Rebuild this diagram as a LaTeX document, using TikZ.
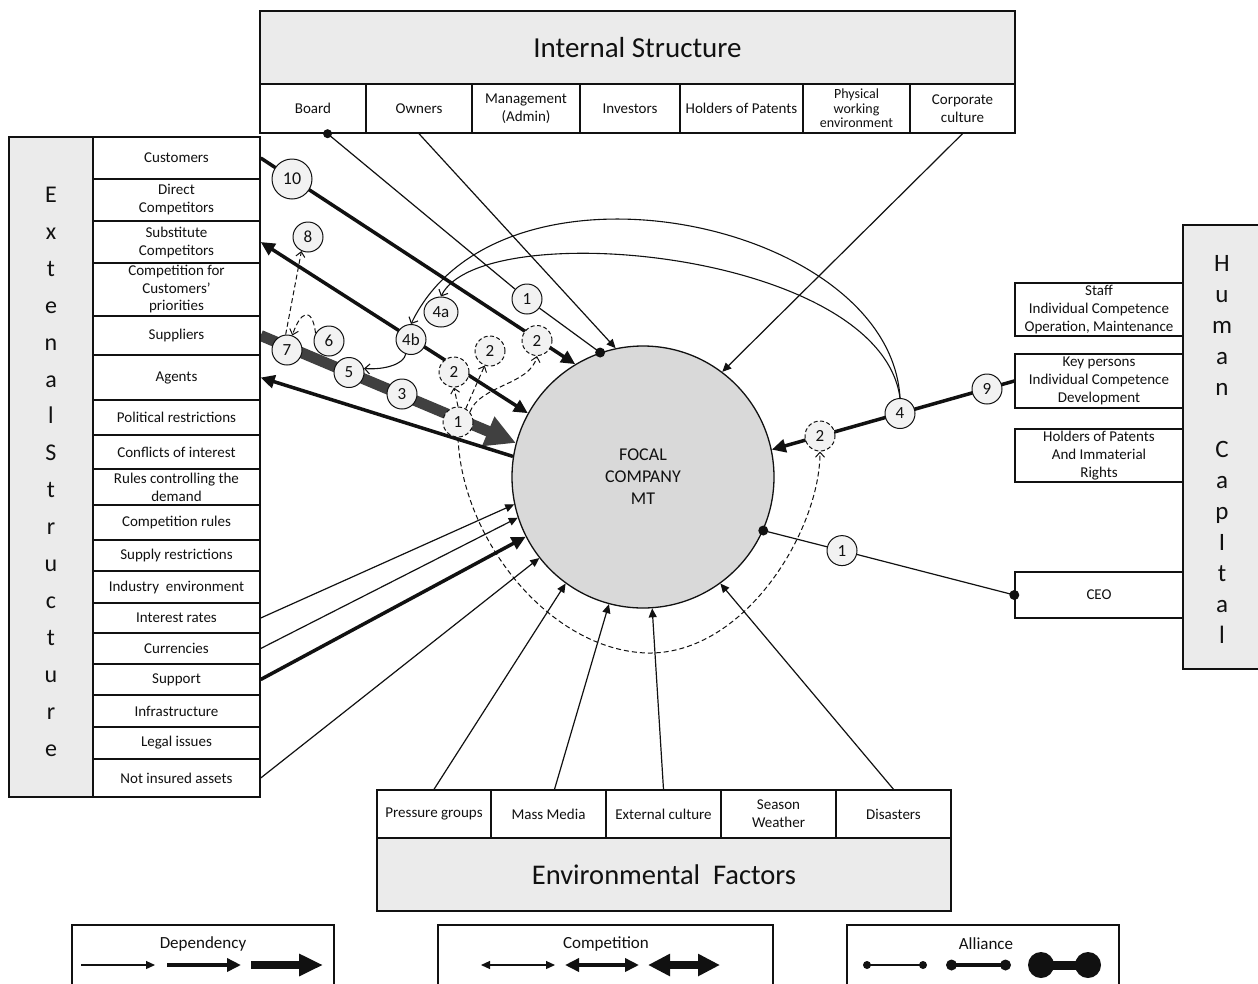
\documentclass[tikz,border=0pt]{standalone}
\usepackage{fontspec}
\setmainfont{Carlito}
\usetikzlibrary{arrows.meta,shapes.geometric,calc}
\pgfdeclarelayer{bg}
\pgfsetlayers{bg,main}
\definecolor{band}{HTML}{EBEBEB}
\definecolor{focfill}{HTML}{D9D9D9}
\definecolor{numfill}{HTML}{F2F2F2}
\definecolor{darkband}{HTML}{404040}
\definecolor{ink}{HTML}{111111}
\newcommand\cellat[7][]{\node[cellbox,#1,minimum width={#5-#3},minimum height={#6-#4}] (#2) at ({(#3+#5)/2},{(#4+#6)/2}) {#7};}
\begin{document}
\begin{tikzpicture}[x=1pt,y=-1pt,
  every node/.style={inner sep=0pt, text=ink},
  cellbox/.style={draw=ink, line width=1.4pt, fill=white, align=center, font=\fontsize{15}{18}\selectfont},
  bandbox/.style={draw=ink, line width=1.4pt, fill=band},
  num/.style={circle, draw=ink, line width=1pt, fill=numfill, minimum size=30pt, font=\fontsize{17}{17}\selectfont},
  dnum/.style={num, dash pattern=on 4pt off 2.5pt},
  dep/.style={draw=ink, line width=1.2pt, -{Triangle[length=9pt,width=8pt]}},
  depm/.style={draw=ink, line width=3.5pt, -{Triangle[length=14pt,width=13pt]}},
  depl/.style={draw=ink, line width=8pt, -{Triangle[length=24pt,width=21pt]}},
  comt/.style={draw=ink, line width=1.2pt, {Triangle[length=9pt,width=8pt]}-{Triangle[length=9pt,width=8pt]}},
  comm/.style={draw=ink, line width=3.5pt, {Triangle[length=14pt,width=13pt]}-{Triangle[length=14pt,width=13pt]}},
  coml/.style={draw=ink, line width=8pt, {Triangle[length=22pt,width=21pt]}-{Triangle[length=22pt,width=21pt]}},
  supl/.style={draw=darkband, line width=11pt, -{Triangle[length=30pt,width=30pt]}},
  ali/.style={draw=ink, line width=1.2pt},
  infl/.style={draw=ink, line width=1pt, dash pattern=on 5pt off 3pt, -{Straight Barb[length=5pt,width=9pt]}},
  curv/.style={draw=ink, line width=1.1pt, -{Straight Barb[length=5pt,width=10pt]}},
  legbox/.style={draw=ink, line width=1.4pt, minimum height=70pt},
  legtitle/.style={font=\fontsize{17}{17}\selectfont},
]
\useasboundingbox (0,0) rectangle (1258,983);
\begin{pgfonlayer}{bg}
\fill[white] (0,0) rectangle (1258,983);
\end{pgfonlayer}

% ---------- Internal structure ----------
\node[bandbox, minimum width=755pt, minimum height=73pt, font=\fontsize{29}{29}\selectfont] (intband) at (637.5,47.5) {Internal Structure};
\cellat{board}{260}{84}{366}{133}{Board}
\cellat{owners}{366}{84}{472}{133}{Owners}
\cellat{mgmt}{472}{84}{580}{133}{Management\\(Admin)}
\cellat{inv}{580}{84}{680}{133}{Investors}
\cellat{hop}{680}{84}{803}{133}{Holders of Patents}
\cellat[font=\fontsize{14}{14.5}\selectfont]{phys}{803}{84}{910}{133}{Physical\\working\\environment}
\cellat{corp}{910}{84}{1015}{133}{Corporate\\culture}

% ---------- External structure ----------
\node[bandbox, minimum width=84pt, minimum height=660pt] (extband) at (51,467) {};
\foreach \ch [count=\i from 0] in {E,x,t,e,n,a,l,S,t,r,u,c,t,u,r,e}
  \node[anchor=base, font=\fontsize{24}{24}\selectfont] (ext\i) at (51,{202.5+36.9*\i}) {\ch};
\cellat{cust}{93}{137}{260}{179}{Customers}
\cellat{dirc}{93}{179}{260}{221}{Direct\\Competitors}
\cellat{subs}{93}{221}{260}{263}{Substitute\\Competitors}
\cellat[font=\fontsize{15}{17.5}\selectfont]{cprio}{93}{263}{260}{316}{Competition for\\Customers’\\priorities}
\cellat{supp}{93}{316}{260}{355}{Suppliers}
\cellat{agents}{93}{355}{260}{400}{Agents}
\cellat{polr}{93}{400}{260}{435}{Political restrictions}
\cellat{conf}{93}{435}{260}{469}{Conflicts of interest}
\cellat{rules}{93}{469}{260}{505}{Rules controlling the\\demand}
\cellat{comr}{93}{505}{260}{540}{Competition rules}
\cellat{supr}{93}{540}{260}{571}{Supply restrictions}
\cellat{inde}{93}{571}{260}{603}{Industry\ \ environment}
\cellat{intr}{93}{603}{260}{633}{Interest rates}
\cellat{curr}{93}{633}{260}{664}{Currencies}
\cellat{supt}{93}{664}{260}{695}{Support}
\cellat{infr}{93}{695}{260}{727}{Infrastructure}
\cellat{legal}{93}{727}{260}{759}{Legal issues}
\cellat{notins}{93}{759}{260}{797}{Not insured assets}

% ---------- Human capital ----------
\node[bandbox, minimum width=79pt, minimum height=444pt] (humband) at (1222.5,447) {};
\foreach \ch [count=\i from 0] in {H,u,m,a,n}
  \node[anchor=base, font=\fontsize{25}{25}\selectfont] (hum\i) at (1222,{271+31*\i}) {\ch};
\foreach \ch [count=\i from 6] in {C,a,p,I,t,a,l}
  \node[anchor=base, font=\fontsize{25}{25}\selectfont] (hum\i) at (1222,{271+31*\i}) {\ch};
\cellat{staff}{1015}{283}{1183}{336}{Staff\\Individual Competence\\Operation, Maintenance}
\cellat{key}{1015}{354}{1183}{408}{Key persons\\Individual Competence\\Development}
\cellat{hpr}{1015}{429}{1183}{482}{Holders of Patents\\And Immaterial\\Rights}
\cellat{ceo}{1015}{572}{1183}{618}{CEO}

% ---------- Environmental factors ----------
\node[bandbox, minimum width=574pt, minimum height=73pt, font=\fontsize{28.5}{28.5}\selectfont] (envband) at (664,874.5) {Environmental\ \ Factors};
\cellat{press}{377}{790}{491}{838}{Pressure groups}
\cellat{mass}{491}{790}{606}{838}{Mass Media}
\cellat{extc}{606}{790}{721}{838}{External culture}
\cellat{seas}{721}{790}{836}{838}{Season\\Weather}
\cellat{dis}{836}{790}{951}{838}{Disasters}

% ---------- Focal company ----------
\node[circle, draw=ink, line width=1.3pt, fill=focfill, minimum size=262pt, align=center, font=\fontsize{18}{22}\selectfont] (foc) at (643,477) {FOCAL\\COMPANY\\MT};

% ---------- numbered circles ----------
\node[num, minimum size=40pt, font=\fontsize{18}{18}\selectfont] (c10) at (292,179) {10};
\node[num] (c8) at (308,237) {8};
\node[num, ellipse, minimum width=34pt, minimum height=30pt] (c4a) at (441,312) {4a};
\node[num] (c1a) at (527,299) {1};
\node[num] (c4b) at (411,339.5) {4b};
\node[num] (c7) at (287,350) {7};
\node[num] (c6) at (329,341) {6};
\node[num] (c5) at (349,372.5) {5};
\node[num] (c3) at (402,394) {3};
\node[dnum] (d2a) at (537,340.5) {2};
\node[dnum] (d2b) at (490,351) {2};
\node[dnum] (d2c) at (454,372) {2};
\node[dnum] (d1) at (458,422) {1};
\node[num] (c4) at (900,413.5) {4};
\node[num] (c9) at (987,389) {9};
\node[dnum] (d2r) at (820,436) {2};
\node[num] (c1r) at (842,550.6) {1};

% ---------- connectors ----------
\begin{pgfonlayer}{bg}
\draw[ali] (board.-60) -- (c1a) -- (foc.109);
\draw[dep] (owners.south) -- (foc.102);
\draw[dep] (corp.south) -- (foc.53.5);
\draw[depm] (cust.east) -- (foc.121.5);
\draw[comm] (subs.east) -- (foc.151.5);
\draw[supl] (supp.east) -- (foc.165);
\draw[depm] (foc.171) -- (agents.east);
\draw[dep] (intr.east) -- (foc.192);
\draw[dep] (curr.east) -- (foc.198.5);
\draw[depm] (supt.east) -- (foc.207);
\draw[dep] (notins.east) -- (foc.218);
\draw[dep] (press.north) -- (foc.234);
\draw[dep] ([xshift=6pt]mass.north) -- (foc.255);
\draw[dep] (extc.north) -- (foc.274);
\draw[dep] (dis.north) -- (foc.306);
\draw[depm] (key.west) -- (foc.12);
\draw[ali] (ceo.west) -- (c1r) -- (foc.336);
\draw[curv] (c4.north) .. controls (890,220) and (500,140) .. (c4b.north);
\draw[curv] (c4.north) .. controls (880,250) and (480,215) .. (c4a.north);
\draw[curv] (c4b.250) .. controls (404,364) and (385,370) .. (c5.15);
\draw[infl] (c7.95) -- (c8.245);
\draw[infl] (c6.150) .. controls (312,305) and (300,312) .. (c7.70);
\draw[infl] (d1.north) -- (d2c.south);
\draw[infl] (d1.60) -- (d2b.250);
\draw[infl] (d1.40) .. controls (480,385) and (530,385) .. (d2a.south);
\draw[infl] (d1.south) .. controls (462,540) and (550,650) .. (647,653) .. controls (745,655) and (820,530) .. (d2r.south);
\end{pgfonlayer}

% alliance dots
\fill[ink] (board.-60) circle (4.5);
\fill[ink] (foc.109) circle (5);
\fill[ink] (ceo.west) circle (5);
\fill[ink] (foc.336) circle (5);

% ---------- legend ----------
\node[legbox, minimum width=262pt] (legdep) at (203,960) {};
\node[legtitle] (legdept) at (203,944) {Dependency};
\coordinate (ld1a) at (81,965);  \coordinate (ld1b) at (155,965);
\coordinate (ld2a) at (167,965); \coordinate (ld2b) at (241,965);
\coordinate (ld3a) at (251,965); \coordinate (ld3b) at (323,965);
\draw[dep] (ld1a) -- (ld1b);
\draw[depm] (ld2a) -- (ld2b);
\draw[depl] (ld3a) -- (ld3b);

\node[legbox, minimum width=335pt] (legcom) at (605.5,960) {};
\node[legtitle] (legcomt) at (606,944) {Competition};
\coordinate (lc1a) at (481,965); \coordinate (lc1b) at (555,965);
\coordinate (lc2a) at (565,965); \coordinate (lc2b) at (639,965);
\coordinate (lc3a) at (648,965); \coordinate (lc3b) at (720,965);
\draw[comt] (lc1a) -- (lc1b);
\draw[comm] (lc2a) -- (lc2b);
\draw[coml] (lc3a) -- (lc3b);

\node[legbox, minimum width=272pt] (legali) at (983,960) {};
\node[legtitle] (legalit) at (986,944) {Alliance};
\coordinate (la1a) at (867,965);  \coordinate (la1b) at (923,965);
\coordinate (la2a) at (951.5,965); \coordinate (la2b) at (1005.5,965);
\coordinate (la3a) at (1041,965); \coordinate (la3b) at (1088,965);
\draw[ali] (la1a) -- (la1b);
\fill[ink] (la1a) circle (4); \fill[ink] (la1b) circle (4);
\draw[ali, line width=3.5pt] (la2a) -- (la2b);
\fill[ink] (la2a) circle (5.5); \fill[ink] (la2b) circle (5.5);
\draw[ali, line width=9pt] (la3a) -- (la3b);
\fill[ink] (la3a) circle (13); \fill[ink] (la3b) circle (13);
\end{tikzpicture}
\end{document}
